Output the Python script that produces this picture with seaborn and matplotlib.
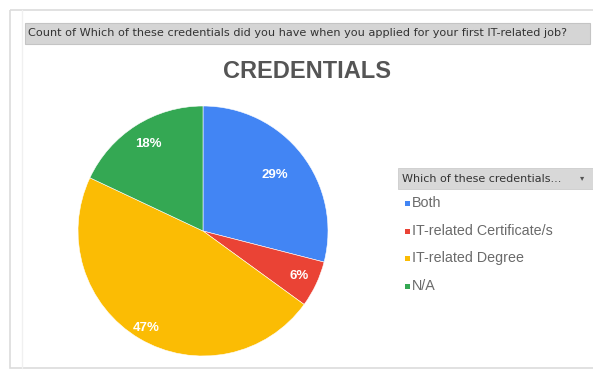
import matplotlib
matplotlib.use("Agg")
import matplotlib.pyplot as plt
from matplotlib.patches import Rectangle
import numpy as np
import seaborn as sns

# Survey answers: share of respondents (%) per credential type
categories = ["Both", "IT-related Certificate/s", "IT-related Degree", "N/A"]
shares = [29, 6, 47, 18]
question = "Count of Which of these credentials did you have when you applied for your first IT-related job?"
chart_title = "CREDENTIALS"
legend_title = "Which of these credentials..."

sns.set_theme(style="white")
plt.rcParams["font.family"] = ["Liberation Sans", "DejaVu Sans"]

colors = sns.color_palette(["#4285F4", "#EA4335", "#FBBC04", "#34A853"])

W, H = 593, 371
fig = plt.figure(figsize=(W / 100, H / 100), dpi=100)
fig.patch.set_facecolor("white")


def fx(px):
    return px / W


def fy(py):
    return 1 - py / H


# panel frame
bg = fig.add_axes([0, 0, 1, 1])
bg.set_xlim(0, W)
bg.set_ylim(H, 0)
bg.axis("off")
bg.add_patch(Rectangle((10, 10), 600, 358, facecolor="none", edgecolor="#dcdcdc", lw=1.2))
bg.plot([22, 22], [10, 368], color="#f0f0f0", lw=1)

# question header bar
bg.add_patch(Rectangle((25, 23), 565, 21, facecolor="#d5d5d5", edgecolor="#c4c4c4", lw=0.8))
bg.text(28, 33.5, question, fontsize=8.1, color="#333333", va="center", ha="left",
        family=["DejaVu Sans"])

# chart title
fig.text(fx(307), fy(71), chart_title, ha="center", va="center", fontsize=17,
         fontweight="bold", color="#555555")

# pie
cx, cy, r = 203, 231, 125
ax = fig.add_axes([fx(cx - r), fy(cy + r), 2 * r / W, 2 * r / H])
wedges, texts, autotexts = ax.pie(
    shares, colors=colors, startangle=90, counterclock=False,
    autopct=lambda p: f"{p:.0f}%", pctdistance=0.8,
    wedgeprops=dict(edgecolor="white", linewidth=0.4),
    textprops=dict(color="white", fontsize=9.5, fontweight="bold"),
)
label_radius = [0.73, 0.85, 0.9, 0.82]
for w, t, k in zip(wedges, autotexts, label_radius):
    ang = np.deg2rad((w.theta1 + w.theta2) / 2)
    t.set_position((k * np.cos(ang), k * np.sin(ang)))
ax.set_aspect("auto")
ax.set_xlim(-1, 1)
ax.set_ylim(-1, 1)

# legend panel
bg.add_patch(Rectangle((398, 168), 200, 21, facecolor="#d8d8d8", edgecolor="#cccccc", lw=0.6))
bg.text(402, 179, legend_title, fontsize=8.0, color="#333333", va="center", ha="left",
        family=["DejaVu Sans"])
bg.text(582, 178, "\u25be", fontsize=6, color="#555555", va="center", ha="center",
        family=["DejaVu Sans"])
row_y = [203, 231, 258, 286]
for name, col, y in zip(categories, colors, row_y):
    bg.add_patch(Rectangle((405, y - 2.5), 5, 5, facecolor=col, edgecolor="none"))
    bg.text(412, y, name, fontsize=10.3, color="#6a6a6a", va="center", ha="left")

fig.savefig("out.png", dpi=100, facecolor="white")
